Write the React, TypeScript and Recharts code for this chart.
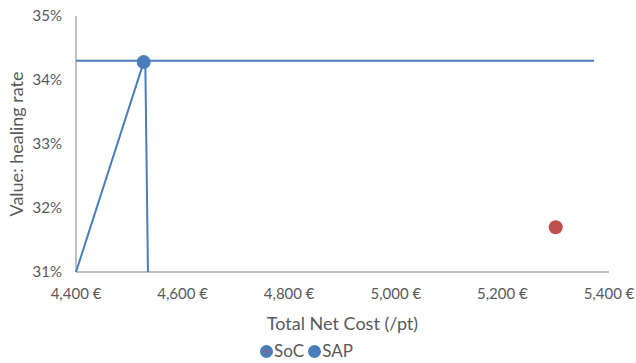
import React from 'react';
import { ComposedChart, Scatter, XAxis, YAxis, Legend } from 'recharts';

// Cost (€ per patient) vs. healing rate (%)
const socPoint = [{ cost: 5300, rate: 31.7 }];
const sapPoint = [{ cost: 4527, rate: 34.28 }];

// Reference lines drawn as connected two-point scatter segments
const riseCost = [4400, 4527];
const riseRate = [31, 34.28];
const levelCost = [4400, 5372];
const levelRate = [34.3, 34.3];
const dropCost = [4530, 4535];
const dropRate = [34.3, 31];

const costTicks = [4400, 4600, 4800, 5000, 5200, 5400];
const rateTicks = [31, 32, 33, 34, 35];

const BLUE = '#4a7ebb';
const RED = '#c0504d';
const AXIS = '#bfbfbf';
const TEXT = '#595959';
const FONT = 'Lato, "Open Sans", sans-serif';

const toPoints = (xs: number[], ys: number[]) => xs.map((x, i) => ({ cost: x, rate: ys[i] }));

const formatEuro = (v: number) => `${v.toLocaleString('en-US')} €`;

const NoShape = () => null;

const LegendContent = () => (
  <div style={{ display: 'flex', justifyContent: 'center', gap: 4, fontFamily: FONT, fontSize: 17, color: TEXT, lineHeight: '24px', paddingLeft: 4 }}>
    <span style={{ display: 'flex', alignItems: 'center' }}>
      <svg width={13} height={13} style={{ marginRight: 1 }}>
        <circle cx={6.5} cy={6.5} r={6.5} fill={BLUE} />
        <circle cx={6.5} cy={6.5} r={1.5} fill={RED} />
      </svg>
      SoC
    </span>
    <span style={{ display: 'flex', alignItems: 'center' }}>
      <svg width={13} height={13} style={{ marginRight: 1 }}>
        <circle cx={6.5} cy={6.5} r={6.5} fill={BLUE} />
      </svg>
      SAP
    </span>
  </div>
);

const App: React.FC = () => {
  return (
    <div style={{ position: 'absolute', left: 0, top: 0, width: 636, height: 363, background: '#fff' }}>
      <ComposedChart width={636} height={363} margin={{ top: 16, right: 27, left: 0, bottom: 0 }}>
        <XAxis
          type="number"
          dataKey="cost"
          domain={[4400, 5400]}
          ticks={costTicks}
          tickFormatter={formatEuro}
          stroke={AXIS}
          strokeWidth={2}
          tickLine={false}
          tick={{ fill: TEXT, fontSize: 15, fontFamily: FONT }}
          tickMargin={10}
          height={67}
          label={{ value: 'Total Net Cost (/pt)', position: 'insideBottom', offset: 9, fill: TEXT, fontSize: 18, fontFamily: FONT }}
        />
        <YAxis
          type="number"
          dataKey="rate"
          domain={[31, 35]}
          ticks={rateTicks}
          tickFormatter={(v: number) => `${v}%`}
          stroke={AXIS}
          strokeWidth={2}
          tickLine={false}
          tick={{ fill: TEXT, fontSize: 15, fontFamily: FONT }}
          tickMargin={8}
          width={76}
          label={{ value: 'Value: healing rate', angle: -90, position: 'insideLeft', offset: 17, style: { textAnchor: 'middle' }, fill: TEXT, fontSize: 18, fontFamily: FONT }}
        />
        <Legend verticalAlign="bottom" height={24} content={<LegendContent />} />
        <Scatter data={toPoints(riseCost, riseRate)} line={{ stroke: BLUE, strokeWidth: 2 }} shape={<NoShape />} legendType="none" isAnimationActive={false} />
        <Scatter data={toPoints(levelCost, levelRate)} line={{ stroke: BLUE, strokeWidth: 2 }} shape={<NoShape />} legendType="none" isAnimationActive={false} />
        <Scatter data={toPoints(dropCost, dropRate)} line={{ stroke: BLUE, strokeWidth: 2 }} shape={<NoShape />} legendType="none" isAnimationActive={false} />
        <Scatter name="SoC" data={socPoint} fill={RED} shape={(p: any) => <circle cx={p.cx} cy={p.cy} r={7} fill={RED} />} isAnimationActive={false} />
        <Scatter name="SAP" data={sapPoint} fill={BLUE} shape={(p: any) => <circle cx={p.cx} cy={p.cy} r={7} fill={BLUE} />} isAnimationActive={false} />
      </ComposedChart>
    </div>
  );
};

export default App;
